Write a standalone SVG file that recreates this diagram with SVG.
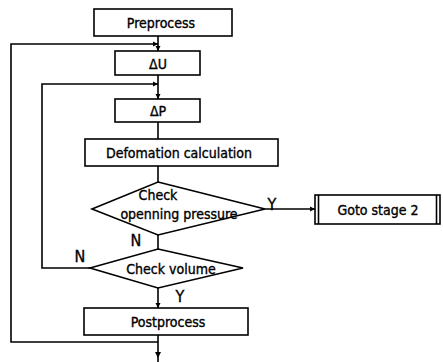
<svg xmlns="http://www.w3.org/2000/svg" width="443" height="362" viewBox="0 0 443 362">
<defs>
<marker id="ah" markerWidth="6" markerHeight="6" refX="5" refY="3" orient="auto" markerUnits="userSpaceOnUse">
<path d="M0,0.5 L5,3 L0,5.5 Z" fill="#000"/>
</marker>
</defs>
<style>
.box{fill:#fff;stroke:#000;stroke-width:1.6}
.ln{fill:none;stroke:#000;stroke-width:1.6}
text{font-family:"Liberation Sans Narrow","DejaVu Sans Condensed","Liberation Sans",sans-serif;font-size:14px;fill:#000;stroke:#000;stroke-width:0.35;text-anchor:middle}
.lbl{font-size:16px}
</style>
<rect width="443" height="362" fill="#fff"/>
<g id="connectors">
<line class="ln" x1="158" y1="36" x2="158" y2="51" marker-end="url(#ah)"/>
<line class="ln" x1="158" y1="75" x2="158" y2="99" marker-end="url(#ah)"/>
<line class="ln" x1="158" y1="122" x2="158" y2="139"/>
<line class="ln" x1="158" y1="166" x2="158" y2="182"/>
<line class="ln" x1="158" y1="235" x2="158" y2="249"/>
<line class="ln" x1="158" y1="288" x2="158" y2="308" marker-end="url(#ah)"/>
<line class="ln" x1="158" y1="335" x2="158" y2="362"/>
<path class="ln" d="M158,342 L11,342 L11,44 L158,44" marker-end="url(#ah)"/>
<path class="ln" d="M90,268 L42,268 L42,84 L158,84" marker-end="url(#ah)"/>
<line class="ln" x1="265" y1="209" x2="315" y2="209" marker-end="url(#ah)"/>
<path d="M155,352 L158,358 L161,352 Z" fill="#000"/>
</g>
<g id="preprocess">
<rect class="box" x="94" y="9" width="138" height="27"/>
<text x="161" y="28" font-size="15">Preprocess</text>
</g>
<g id="du">
<rect class="box" x="115" y="51" width="85" height="24"/>
<text x="158" y="69" font-size="15">ΔU</text>
</g>
<g id="dp">
<rect class="box" x="115" y="99" width="85" height="23"/>
<text x="158" y="116" font-size="15">ΔP</text>
</g>
<g id="deformation">
<rect class="box" x="85" y="139" width="193" height="27"/>
<text x="179" y="158">Defomation calculation</text>
</g>
<g id="check-pressure">
<polygon class="box" points="158,182 265,209 158,235 92,209"/>
<text x="158" y="200">Check</text>
<text x="179" y="219">openning pressure</text>
</g>
<g id="goto">
<rect class="box" x="315" y="195" width="125" height="29"/>
<line class="ln" x1="318.5" y1="195" x2="318.5" y2="224"/>
<line class="ln" x1="436.5" y1="195" x2="436.5" y2="224"/>
<text x="378" y="215" font-size="15">Goto  stage 2</text>
</g>
<g id="check-volume">
<polygon class="box" points="158,249 243,268 158,288 90,268"/>
<text x="171" y="274" font-size="15">Check  volume</text>
</g>
<g id="postprocess">
<rect class="box" x="84" y="308" width="164" height="27"/>
<text x="168" y="327" font-size="15">Postprocess</text>
</g>
<g id="labels">
<text class="lbl" x="272" y="210">Y</text>
<text class="lbl" x="136" y="246">N</text>
<text class="lbl" x="80" y="262">N</text>
<text class="lbl" x="180" y="302">Y</text>
</g>
</svg>
